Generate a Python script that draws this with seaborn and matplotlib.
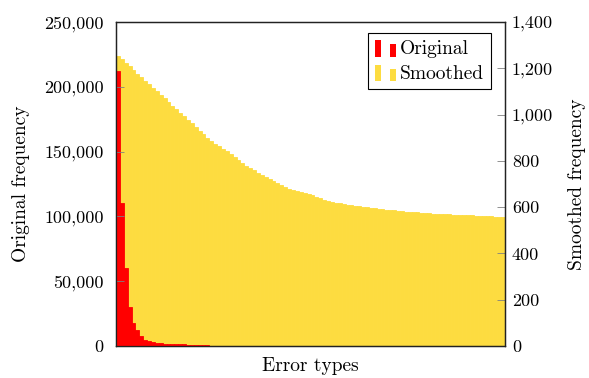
import matplotlib
matplotlib.use("Agg")
import matplotlib.pyplot as plt
from matplotlib.patches import Rectangle
from matplotlib.legend_handler import HandlerBase
from matplotlib.ticker import FuncFormatter
import seaborn as sns
import pandas as pd

# ---- data ----
original = [212000, 110000, 60000, 30000, 18000, 12000, 7500, 5000, 3800, 3000,
            2500, 2200, 1900, 1700, 1500, 1400, 1300, 1200, 1000, 800,
            600, 500, 450, 400, 380, 350, 330, 310, 300, 290,
            280, 270, 260, 250, 240, 230, 220, 210, 200, 195,
            190, 185, 180, 175, 170, 165, 160, 155, 150, 145,
            140, 135, 130, 125, 120, 118, 116, 114, 112, 110,
            108, 106, 104, 102, 100, 98, 96, 94, 92, 90,
            88, 86, 84, 82, 80, 78, 76, 74, 72, 70,
            68, 66, 64, 62, 60, 58, 56, 54, 52, 50,
            48, 46, 44, 42, 40, 38, 36, 34, 32, 30]
smoothed = [1254, 1239, 1223, 1208, 1193, 1177, 1162, 1146, 1131, 1116,
            1100, 1085, 1070, 1054, 1039, 1023, 1008, 993, 977, 962,
            947, 931, 916, 900, 885, 874, 863, 853, 843, 830,
            817, 804, 791, 778, 769, 759, 749, 739, 730, 721,
            713, 704, 696, 688, 679, 676, 671, 667, 662, 657,
            651, 644, 638, 633, 628, 624, 620, 616, 613, 611,
            608, 606, 603, 601, 599, 597, 595, 593, 591, 589,
            588, 586, 584, 582, 581, 579, 578, 577, 575, 574,
            573, 572, 571, 570, 569, 569, 568, 567, 566, 565,
            565, 564, 563, 562, 561, 560, 560, 559, 558, 557]
error_types = [f"e{i}" for i in range(len(original))]
left_ticks = [0, 50000, 100000, 150000, 200000, 250000]
right_ticks = [0, 200, 400, 600, 800, 1000, 1200, 1400]

df = pd.DataFrame({"type": error_types, "original": original, "smoothed": smoothed})

RED = "#FF0000"
YELLOW = "#FDDC40"

plt.rcParams["font.family"] = "serif"
plt.rcParams["font.serif"] = ["cmr10", "DejaVu Serif"]
plt.rcParams["axes.unicode_minus"] = False
plt.rcParams["font.size"] = 13

fig = plt.figure(figsize=(5.89, 3.78), dpi=100)
ax = fig.add_axes([116/589, 1-346/378, (505-116)/589, (346-22)/378])
ax2 = ax.twinx()

sns.barplot(data=df, x="type", y="smoothed", color=YELLOW, saturation=1, width=1.0,
            linewidth=0.6, edgecolor=YELLOW, ax=ax2, errorbar=None)
sns.barplot(data=df, x="type", y="original", color=RED, saturation=1, width=1.0,
            linewidth=0.6, edgecolor=RED, ax=ax, errorbar=None)

ax.set_zorder(2)
ax.patch.set_visible(False)
ax2.set_zorder(1)

n = len(original)
ax.set_xlim(-0.5, n - 0.5)
ax.set_ylim(0, 250000)
ax2.set_ylim(0, 1400)
ax.set_xticks([])
ax2.set_xticks([])
ax.set_yticks(left_ticks)
ax2.set_yticks(right_ticks)
fmt = FuncFormatter(lambda v, p: f"{int(v):,}")
ax.yaxis.set_major_formatter(fmt)
ax2.yaxis.set_major_formatter(fmt)

for a in (ax, ax2):
    a.tick_params(axis="y", direction="in", length=5.5, width=0.6, color="#808080",
                  labelsize=13)
    for s in a.spines.values():
        s.set_color("#222222")
        s.set_linewidth(0.9)
ax.tick_params(axis="y", right=False, pad=9)
ax2.tick_params(axis="y", pad=5)

ax.set_xlabel("Error types", fontsize=14, labelpad=8)
ax.set_ylabel("Original frequency", fontsize=14, labelpad=10)
ax2.set_ylabel("Smoothed frequency", fontsize=14, labelpad=11)


class TwoBarHandler(HandlerBase):
    def create_artists(self, legend, orig_handle, xdescent, ydescent, width, height,
                       fontsize, trans):
        c = orig_handle.get_facecolor()
        x0, y0 = -xdescent, -ydescent - 2
        bw = width * 0.3
        h = height + 2
        r1 = Rectangle((x0, y0), bw, h, facecolor=c, edgecolor="none", transform=trans)
        r2 = Rectangle((x0 + width - bw, y0), bw, h * 0.75, facecolor=c,
                       edgecolor="none", transform=trans)
        return [r1, r2]


h1 = Rectangle((0, 0), 1, 1, facecolor=RED)
h2 = Rectangle((0, 0), 1, 1, facecolor=YELLOW)
leg = ax.legend([h1, h2], ["Original", "Smoothed"], loc="upper right",
                bbox_to_anchor=(1 - 14/389, 1 - 11/324), borderaxespad=0,
                handler_map={Rectangle: TwoBarHandler()}, fancybox=False,
                edgecolor="black", framealpha=1, handlelength=1.1,
                handletextpad=0.2, borderpad=0.35, labelspacing=0.35, fontsize=14)
leg.get_frame().set_linewidth(0.8)

fig.savefig("out.png", dpi=100)
